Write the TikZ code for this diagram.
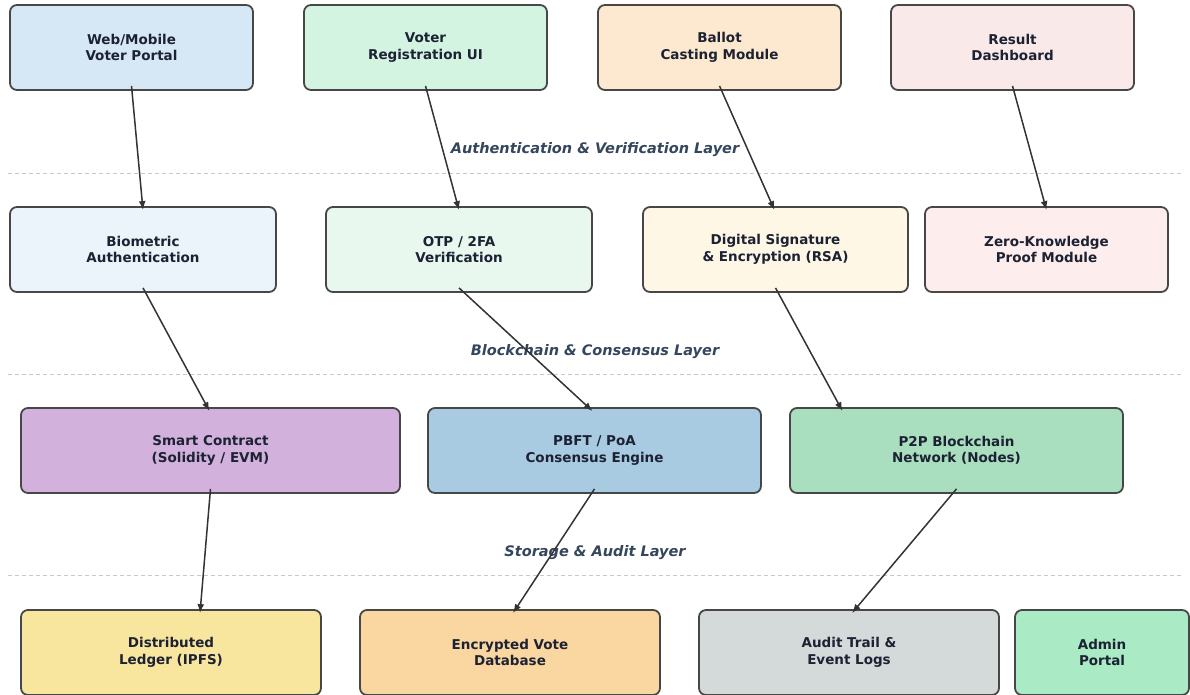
\documentclass[tikz,border=0pt]{standalone}
\usepackage{fontspec}
\setmainfont{DejaVu Sans}
\usetikzlibrary{arrows.meta}

\definecolor{boxline}{HTML}{474747}
\definecolor{inkdark}{HTML}{1C2233}
\definecolor{layerink}{HTML}{34465C}
\definecolor{arrowgray}{HTML}{333333}
\definecolor{sepgray}{HTML}{C8C8C8}
% box fills, one per component
\definecolor{fillWeb}{HTML}{D6E8F6}
\definecolor{fillReg}{HTML}{D4F4E2}
\definecolor{fillBallot}{HTML}{FCE9CF}
\definecolor{fillResult}{HTML}{F9EAE9}
\definecolor{fillBio}{HTML}{EBF4FB}
\definecolor{fillOtp}{HTML}{E8F8EF}
\definecolor{fillSig}{HTML}{FEF7E6}
\definecolor{fillZkp}{HTML}{FDEDEC}
\definecolor{fillContract}{HTML}{D2B2DD}
\definecolor{fillPbft}{HTML}{A9CBE2}
\definecolor{fillPtp}{HTML}{A9DFBE}
\definecolor{fillLedger}{HTML}{F9E69E}
\definecolor{fillVoteDb}{HTML}{FAD6A0}
\definecolor{fillAudit}{HTML}{D4DADA}
\definecolor{fillAdmin}{HTML}{AAEAC5}

\begin{document}
\begin{tikzpicture}[x=1pt, y=-1pt,
every node/.style = {rectangle, draw=boxline, line width=1.8pt, rounded corners=7pt,
                     align=center, text=inkdark, minimum height=85pt,
                     font=\fontsize{13.5}{16.5}\selectfont\bfseries},
layer/.style = {draw=none, minimum height=0pt, text=layerink,
                font=\fontsize{14.5}{17}\selectfont\bfseries\itshape},
sep/.style = {draw=sepgray, line width=1pt, dash pattern=on 4pt off 3pt},
arr/.style = {-{Latex[length=9pt,width=7pt]}, line width=1.5pt, draw=arrowgray}]
\useasboundingbox (0,0) rectangle (1190,694);

% layer separators
\foreach \ly in {173, 374, 575}
  \draw[sep] (8,\ly) -- (1182,\ly);
\node[layer] (authLayer) at (595,150) {Authentication \& Verification Layer};
\node[layer] (chainLayer) at (595,352) {Blockchain \& Consensus Layer};
\node[layer] (storeLayer) at (595,553) {Storage \& Audit Layer};

% front end
\node[fill=fillWeb, minimum width=243pt] (webPortal) at (131.5,47.5) {Web/Mobile\\Voter Portal};
\node[fill=fillReg, minimum width=243pt] (voterReg) at (425.5,47.5) {Voter\\Registration UI};
\node[fill=fillBallot, minimum width=243pt] (ballotCast) at (719.5,47.5) {Ballot\\Casting Module};
\node[fill=fillResult, minimum width=243pt] (resultDash) at (1012.5,47.5) {Result\\Dashboard};

% authentication
\node[fill=fillBio, minimum width=266pt] (bioAuth) at (143,249.5) {Biometric\\Authentication};
\node[fill=fillOtp, minimum width=266pt] (otpVerify) at (459,249.5) {OTP / 2FA\\Verification};
\node[fill=fillSig, minimum width=265pt] (digiSig) at (775.5,249.5) {Digital Signature\\\& Encryption (RSA)};
\node[fill=fillZkp, minimum width=243pt] (zkProof) at (1046.5,249.5) {Zero-Knowledge\\Proof Module};

% blockchain
\node[fill=fillContract, minimum width=379pt] (smartContract) at (210.5,450.5) {Smart Contract\\(Solidity / EVM)};
\node[fill=fillPbft, minimum width=333pt] (consensus) at (594.5,450.5) {PBFT / PoA\\Consensus Engine};
\node[fill=fillPtp, minimum width=333pt] (ptpNet) at (956.5,450.5) {P2P Blockchain\\Network (Nodes)};

% storage
\node[fill=fillLedger, minimum width=300pt] (ledger) at (171,652.5) {Distributed\\Ledger (IPFS)};
\node[fill=fillVoteDb, minimum width=300pt] (voteDb) at (510,652.5) {Encrypted Vote\\Database};
\node[fill=fillAudit, minimum width=300pt] (auditLog) at (849,652.5) {Audit Trail \&\\Event Logs};
\node[fill=fillAdmin, minimum width=174pt] (adminPortal) at (1102,652.5) {Admin\\Portal};

% flows; last field shifts the arrow tip sideways
\foreach \src/\dst/\dx in {webPortal/bioAuth/0, voterReg/otpVerify/0, ballotCast/digiSig/-1,
                           resultDash/zkProof/0, bioAuth/smartContract/-1, otpVerify/consensus/-2,
                           digiSig/ptpNet/-114, smartContract/ledger/29, consensus/voteDb/3,
                           ptpNet/auditLog/3}
  \draw[arr] ([yshift=5pt]\src.south) -- ([xshift=\dx pt, yshift=-4pt]\dst.north);
\end{tikzpicture}
\end{document}
